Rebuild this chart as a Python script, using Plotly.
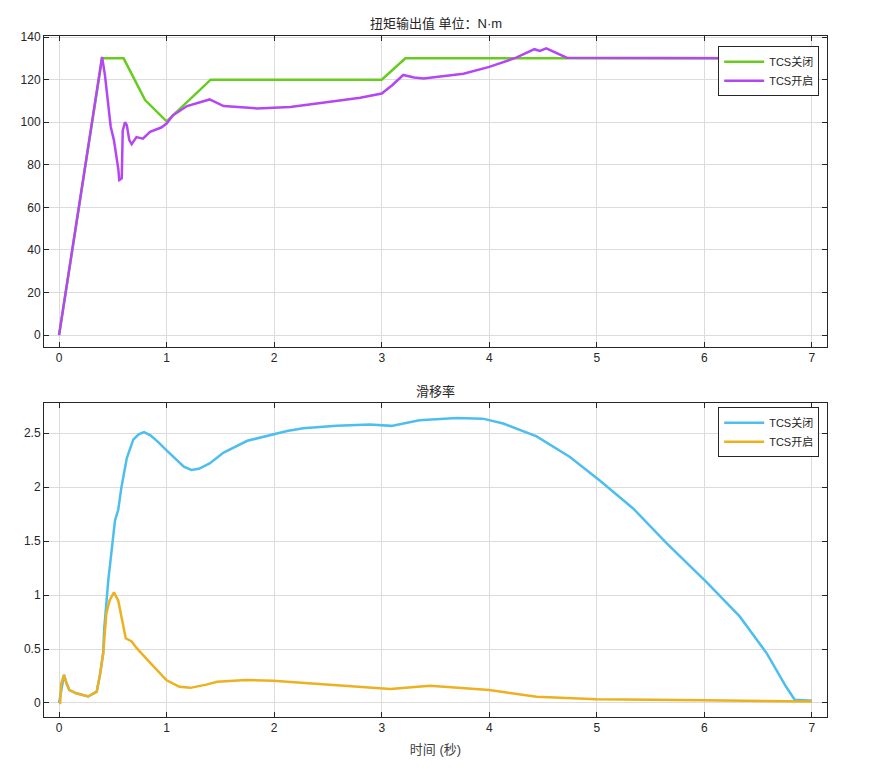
import plotly.graph_objects as go

# 扭矩输出值 (N·m)
torque_off_t = [0, 0.40, 0.60, 0.80, 1.00, 1.41, 3.00, 3.22, 7.00]
torque_off = [0, 130, 130, 110.4, 100.4, 120, 120, 130, 130]

torque_on_t = [0, 0.40, 0.427, 0.45, 0.48, 0.51, 0.536, 0.551, 0.56, 0.583, 0.592,
               0.613, 0.63, 0.653, 0.675, 0.72, 0.78, 0.846, 0.95, 1.00, 1.06, 1.19,
               1.40, 1.53, 1.84, 2.15, 2.52, 2.80, 3.00, 3.10, 3.20, 3.30, 3.39, 3.76,
               4.00, 4.25, 4.42, 4.47, 4.53, 4.62, 4.72, 7.00]
torque_on = [0, 130.7, 122, 110, 98, 91.6, 83.8, 78, 72.8, 73.6, 96,
             100, 98.6, 91.6, 89.7, 93, 92.3, 95.5, 97.5, 99.4, 103.3, 107.6,
             110.7, 107.6, 106.5, 107.2, 109.6, 111.5, 113.5, 117.5, 122.2, 121, 120.5, 122.8,
             126, 130.3, 134.3, 133.5, 134.7, 132.5, 130.3, 130]

# 滑移率
slip_off_t = [0, 0.046, 0.07, 0.096, 0.16, 0.27, 0.35, 0.38, 0.41, 0.42, 0.458, 0.49,
              0.52, 0.55, 0.58, 0.63, 0.69, 0.74, 0.79, 0.85, 0.92, 1.00, 1.08, 1.16,
              1.23, 1.30, 1.40, 1.53, 1.75, 1.96, 2.12, 2.27, 2.58, 2.89, 3.09, 3.35, 3.70,
              3.94, 4.13, 4.44, 4.75, 5.03, 5.34, 5.65, 6.02, 6.33, 6.58, 6.76, 6.84, 7.00]
slip_off = [0, 0.26, 0.18, 0.12, 0.09, 0.06, 0.105, 0.26, 0.46, 0.69, 1.14, 1.45,
            1.69, 1.79, 2.00, 2.27, 2.44, 2.49, 2.51, 2.48, 2.42, 2.34, 2.26, 2.19,
            2.16, 2.17, 2.22, 2.32, 2.43, 2.48, 2.52, 2.545, 2.57, 2.58, 2.568, 2.62, 2.64,
            2.635, 2.59, 2.47, 2.28, 2.06, 1.80, 1.48, 1.12, 0.80, 0.46, 0.15, 0.03, 0.02]

slip_on_t = [0, 0.01, 0.02, 0.046, 0.07, 0.096, 0.16, 0.27, 0.35, 0.38, 0.41, 0.43,
             0.44, 0.47, 0.51, 0.55, 0.58, 0.62, 0.675, 0.72, 0.85, 1.00, 1.12, 1.22,
             1.37, 1.47, 1.74, 1.99, 2.55, 3.08, 3.45, 4.00, 4.44, 5.00, 6.00, 7.00]
slip_on = [0, 0, 0.18, 0.26, 0.18, 0.12, 0.09, 0.06, 0.105, 0.26, 0.46, 0.68,
           0.83, 0.95, 1.025, 0.95, 0.80, 0.60, 0.57, 0.51, 0.37, 0.21, 0.15, 0.14,
           0.17, 0.197, 0.213, 0.206, 0.167, 0.13, 0.16, 0.12, 0.058, 0.034, 0.025, 0.014]

x_ticks = [0, 1, 2, 3, 4, 5, 6, 7]
torque_ticks = [0, 20, 40, 60, 80, 100, 120, 140]
slip_ticks = [0, 0.5, 1, 1.5, 2, 2.5]

FONT = "Liberation Sans Narrow, Liberation Sans, Noto Sans CJK SC"
MIXED = "Liberation Sans, Noto Sans CJK SC"

fig = go.Figure()

fig.add_trace(go.Scatter(x=torque_off_t, y=torque_off, mode="lines", name="TCS关闭",
                         line=dict(color="#66CC1E", width=2.5), legend="legend",
                         xaxis="x", yaxis="y"))
fig.add_trace(go.Scatter(x=torque_on_t, y=torque_on, mode="lines", name="TCS开启",
                         line=dict(color="#B347F5", width=2.5), legend="legend",
                         xaxis="x", yaxis="y"))
fig.add_trace(go.Scatter(x=slip_off_t, y=slip_off, mode="lines", name="TCS关闭",
                         line=dict(color="#4DBEEE", width=2.5), legend="legend2",
                         xaxis="x2", yaxis="y2"))
fig.add_trace(go.Scatter(x=slip_on_t, y=slip_on, mode="lines", name="TCS开启",
                         line=dict(color="#EDB120", width=2.5), legend="legend2",
                         xaxis="x2", yaxis="y2"))

axis_style = dict(
    showline=True, linecolor="#262626", linewidth=1, mirror="ticks",
    ticks="inside", ticklen=5, tickcolor="#262626",
    showgrid=True, gridcolor="#DCDCDC", gridwidth=1, zeroline=False,
    automargin=False,
    tickfont=dict(family=FONT, size=12, color="#262626"),
)

legend_style = dict(
    bgcolor="white", bordercolor="#262626", borderwidth=1,
    font=dict(family=MIXED, size=11, color="#262626"),
    xanchor="right", x=0.99, yanchor="top", tracegroupgap=0,
    itemwidth=40,
)

# 页面 body 有 8px 边距，这里把边距整体减去 8px
fig.update_layout(
    width=873, height=775,
    paper_bgcolor="white", plot_bgcolor="white",
    margin=dict(l=36, r=54, t=28, b=66),
    showlegend=True,
    xaxis=dict(domain=[0, 1], range=[-0.14, 7.14], tickvals=x_ticks, anchor="y", **axis_style),
    yaxis=dict(domain=[0.5433, 1], range=[-5.6, 140.5], tickvals=torque_ticks, anchor="x", **axis_style),
    xaxis2=dict(domain=[0, 1], range=[-0.14, 7.14], tickvals=x_ticks, anchor="y2",
                title=dict(text="时间 (秒)", font=dict(family=MIXED, size=13, color="#404040"), standoff=10),
                **axis_style),
    yaxis2=dict(domain=[0, 0.4611], range=[-0.13, 2.78], tickvals=slip_ticks, anchor="x2", **axis_style),
    legend=dict(y=0.985, **legend_style),
    legend2=dict(y=0.455, **legend_style),
    annotations=[
        dict(text="扭矩输出值 单位：N·m", x=0.5, y=1.0, xref="paper", yref="paper",
             xanchor="center", yanchor="bottom", yshift=3, showarrow=False,
             font=dict(family=MIXED, size=13, color="#262626")),
        dict(text="滑移率", x=0.5, y=0.4611, xref="paper", yref="paper",
             xanchor="center", yanchor="bottom", yshift=2, showarrow=False,
             font=dict(family=MIXED, size=13, color="#262626")),
    ],
)

fig.write_html("out.html")
